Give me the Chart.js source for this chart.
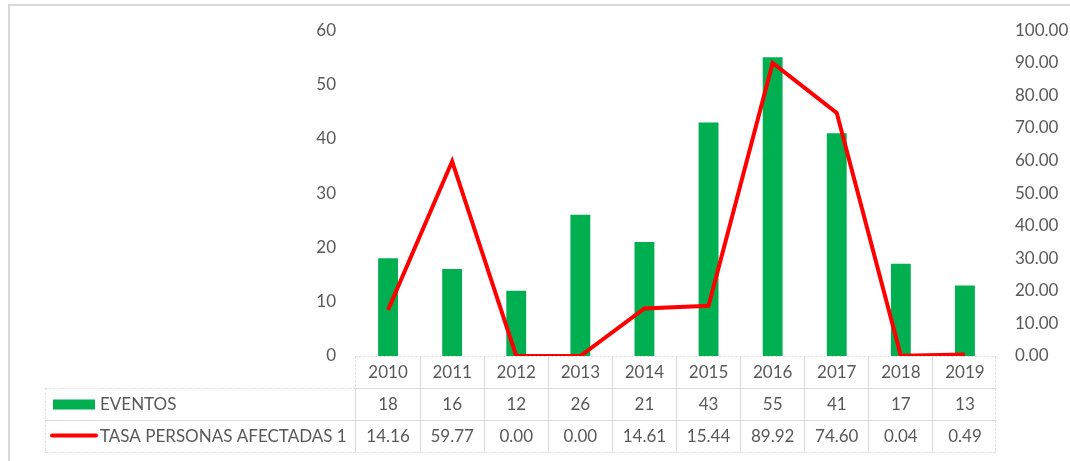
<!DOCTYPE html>
<html>
<head>
<meta charset="utf-8">
<script src="https://cdn.jsdelivr.net/npm/chart.js@4"></script>
<style>
html,body{margin:0;padding:0;background:#fff;}
#wrap{width:1070px;height:461px;position:relative;}
</style>
</head>
<body>
<div id="wrap"><canvas id="c" width="1070" height="461"></canvas></div>
<script>
const categories = ['2010','2011','2012','2013','2014','2015','2016','2017','2018','2019'];
const eventos = [18, 16, 12, 26, 21, 43, 55, 41, 17, 13];
const tasa = [14.16, 59.77, 0.00, 0.00, 14.61, 15.44, 89.92, 74.60, 0.04, 0.49];
const seriesNames = ['EVENTOS', 'TASA PERSONAS AFECTADAS 1'];
const leftAxis = {min: 0, max: 60, step: 10};
const rightAxis = {min: 0, max: 100, step: 10};

const TEXT = '#595959';
const GRID = '#d9d9d9';
const BAR_COLOR = '#00b050';
const LINE_COLOR = '#ff0000';
const FONT = 'Lato, "Open Sans", sans-serif';
Chart.defaults.font.family = FONT;
Chart.defaults.font.size = 17;
Chart.defaults.color = TEXT;

const tablePlugin = {
  id: 'tablePlugin',
  beforeDraw(chart) {
    const ctx = chart.ctx;
    ctx.save();
    ctx.fillStyle = '#fff';
    ctx.fillRect(0, 0, chart.width, chart.height);
    ctx.strokeStyle = GRID;
    ctx.lineWidth = 2;
    ctx.beginPath();
    ctx.moveTo(9, 461); ctx.lineTo(9, 5); ctx.lineTo(1070, 5);
    ctx.stroke();
    ctx.restore();
  },
  afterDraw(chart) {
    const ctx = chart.ctx;
    const xs = chart.scales.x;
    const area = chart.chartArea;
    const colW = xs.getPixelForValue(1) - xs.getPixelForValue(0);
    const left = Math.round(area.left) - 0.5;
    const right = left + colW * categories.length;
    const top = Math.round(area.bottom) + 0.5;
    const rowH = 32;
    const labelLeft = 45.5;
    ctx.save();
    ctx.strokeStyle = GRID;
    ctx.lineWidth = 1;
    const line = (x1, y1, x2, y2, dashed) => {
      ctx.setLineDash(dashed ? [2, 2] : []);
      ctx.beginPath(); ctx.moveTo(x1, y1); ctx.lineTo(x2, y2); ctx.stroke();
    };
    line(left, top, right, top, true);
    line(labelLeft, top + rowH, left, top + rowH, true);
    line(left, top + rowH, right, top + rowH, false);
    line(labelLeft, top + 2 * rowH, right, top + 2 * rowH, false);
    line(labelLeft, top + 3 * rowH, right, top + 3 * rowH, true);
    line(labelLeft, top + rowH, labelLeft, top + 3 * rowH, true);
    line(left, top, left, top + rowH, true);
    line(left, top + rowH, left, top + 3 * rowH, false);
    for (let i = 1; i < categories.length; i++) {
      const x = Math.round(left + i * colW) + 0.5;
      line(x, top, x, top + 3 * rowH, false);
    }
    line(Math.round(right) - 0.5, top, Math.round(right) - 0.5, top + 3 * rowH, true);
    ctx.setLineDash([]);

    ctx.fillStyle = TEXT;
    ctx.font = '17px ' + FONT;
    ctx.textAlign = 'center';
    ctx.textBaseline = 'middle';
    categories.forEach((c, i) => {
      const cx = xs.getPixelForValue(i);
      ctx.fillText(c, cx, top + rowH * 0.5);
      ctx.fillText(String(eventos[i]), cx, top + rowH * 1.5);
      ctx.fillText(tasa[i].toFixed(2), cx, top + rowH * 2.5);
    });
    ctx.textAlign = 'left';
    ctx.fillText(seriesNames[0], 100, top + rowH * 1.5);
    ctx.fillText(seriesNames[1], 100, top + rowH * 2.5);
    ctx.fillStyle = BAR_COLOR;
    ctx.fillRect(53, top + rowH * 1.5 - 5, 42, 10);
    ctx.strokeStyle = LINE_COLOR;
    ctx.lineWidth = 4;
    ctx.lineCap = 'round';
    ctx.beginPath();
    ctx.moveTo(52, top + rowH * 2.5 - 1);
    ctx.lineTo(96, top + rowH * 2.5 - 1);
    ctx.stroke();
    ctx.restore();
  }
};

new Chart(document.getElementById('c'), {
  data: {
    labels: categories,
    datasets: [
      {
        type: 'line',
        label: seriesNames[1],
        data: tasa,
        yAxisID: 'y1',
        borderColor: LINE_COLOR,
        backgroundColor: LINE_COLOR,
        borderWidth: 4,
        pointRadius: 0,
        tension: 0,
        order: 0
      },
      {
        type: 'bar',
        label: seriesNames[0],
        data: eventos,
        yAxisID: 'y',
        backgroundColor: BAR_COLOR,
        borderWidth: 0,
        categoryPercentage: 1,
        barPercentage: 0.31,
        order: 1
      }
    ]
  },
  options: {
    responsive: false,
    animation: false,
    events: [],
    layout: {padding: {top: 27, bottom: 105, left: 0, right: 0}},
    plugins: {legend: {display: false}, tooltip: {enabled: false}, title: {display: false}},
    scales: {
      x: {display: false, offset: true},
      y: {
        position: 'left',
        min: leftAxis.min, max: leftAxis.max,
        grid: {display: false, drawTicks: false},
        border: {display: false},
        ticks: {stepSize: leftAxis.step, padding: 20, color: TEXT},
        afterFit(s) { s.width = 356; }
      },
      y1: {
        position: 'right',
        min: rightAxis.min, max: rightAxis.max,
        grid: {display: false, drawTicks: false},
        border: {display: false},
        ticks: {stepSize: rightAxis.step, padding: 18, color: TEXT, callback: v => Number(v).toFixed(2)},
        afterFit(s) { s.width = 73; }
      }
    }
  },
  plugins: [tablePlugin]
});
</script>
</body>
</html>
